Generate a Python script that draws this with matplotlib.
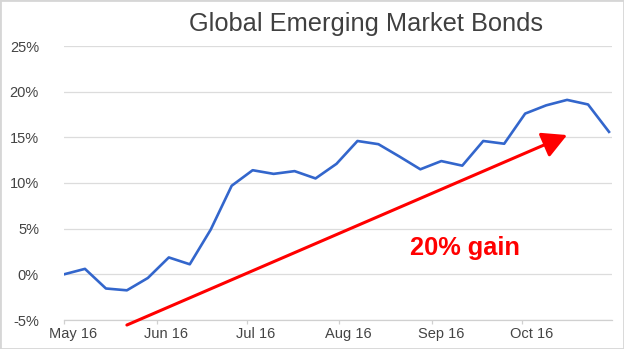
import matplotlib
matplotlib.use('Agg')
import matplotlib.pyplot as plt
import matplotlib.dates as mdates
import matplotlib.transforms as mtransforms
from matplotlib.patches import Rectangle
import pandas as pd

plt.rcParams['font.family'] = ['Liberation Sans', 'DejaVu Sans']

# weekly total return, in percent
weeks = pd.date_range('2016-05-01', periods=27, freq='7D')
returns = [0.0, 0.6, -1.55, -1.75, -0.4, 1.85, 1.1, 4.9, 9.7, 11.4, 11.0, 11.3,
           10.5, 12.1, 14.6, 14.25, 12.9, 11.5, 12.4, 11.9, 14.6, 14.3, 17.6,
           18.5, 19.1, 18.6, 15.6]
y_ticks = [-5, 0, 5, 10, 15, 20, 25]

# trend arrow and its label
arrow_start = (pd.Timestamp('2016-05-22'), -5.55)
arrow_end = (pd.Timestamp('2016-10-16'), 15.25)
gain_label = '20% gain'
label_pos = (pd.Timestamp('2016-09-12'), 2.1)

fig = plt.figure(figsize=(6.24, 3.49), dpi=100)
ax = fig.add_axes([64 / 624, 29 / 349, 548 / 624, 274 / 349])

ax.plot(weeks, returns, color='#3366cc', lw=1.9, solid_joinstyle='round')

ax.set_xlim(pd.Timestamp('2016-05-01'), pd.Timestamp('2016-10-31'))
ax.set_ylim(-5, 25)
ax.set_yticks(y_ticks)
ax.set_yticklabels([f'{v}%' for v in y_ticks])
ax.yaxis.grid(True, color='#dcdcdc', lw=0.9)
ax.set_axisbelow(True)

ax.xaxis.set_major_locator(mdates.MonthLocator())
ax.xaxis.set_major_formatter(mdates.DateFormatter('%b %y'))

for side in ['top', 'right', 'left']:
    ax.spines[side].set_visible(False)
ax.spines['bottom'].set_color('#d0d0d0')
ax.spines['bottom'].set_linewidth(0.9)

ax.tick_params(axis='y', length=0, pad=18, labelsize=10.5, labelcolor='#444444')
ax.tick_params(axis='x', length=3, width=0.9, color='#d0d0d0', pad=2,
               labelsize=10.5, labelcolor='#444444')

# month labels sit a little right of their tick marks
shift = mtransforms.ScaledTranslation(9 / 100, 0, fig.dpi_scale_trans)
for lbl in ax.get_xticklabels():
    lbl.set_transform(lbl.get_transform() + shift)

ax.annotate('', xy=arrow_end, xytext=arrow_start,
            arrowprops=dict(arrowstyle='-|>,head_length=0.75,head_width=0.4',
                            mutation_scale=20, color='#ff0000', lw=2.2,
                            shrinkA=0, shrinkB=0))
ax.text(label_pos[0], label_pos[1], gain_label, color='#ff0000', fontsize=18.3,
        fontweight='bold', ha='center', va='baseline')

fig.text(366 / 624, 1 - 31 / 349, 'Global Emerging Market Bonds', fontsize=18.3,
         color='#404040', ha='center', va='baseline')

fig.patches.append(Rectangle((0, 0), 1, 1, transform=fig.transFigure,
                             fill=False, edgecolor='#d6d6d6', lw=2))

fig.savefig('out.png', dpi=100)
